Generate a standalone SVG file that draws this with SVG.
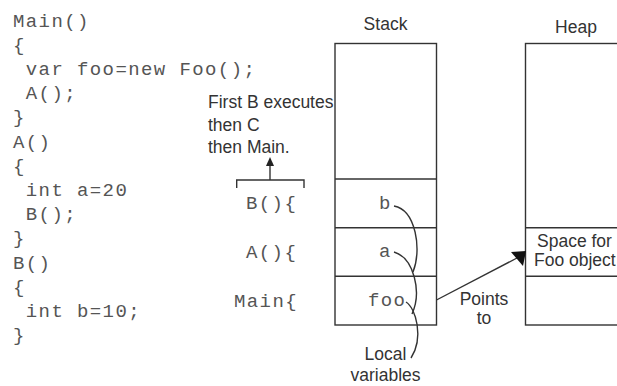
<svg xmlns="http://www.w3.org/2000/svg" width="617" height="386" viewBox="0 0 617 386">
<style>
.code{font-family:"Liberation Mono","Courier New",monospace;font-size:19px;letter-spacing:1.4px;fill:#555}
.lbl{font-family:"Liberation Sans",Arial,sans-serif;font-size:17.5px;fill:#333}
.box{fill:none;stroke:#333;stroke-width:1.4}
.ln{fill:none;stroke:#333;stroke-width:1.4}
</style>
<rect width="617" height="386" fill="#fff"/>
<g id="code">
<text class="code" x="13" y="26.5">Main()</text>
<text class="code" x="13" y="50.7">{</text>
<text class="code" x="25.8" y="74.9">var foo=new Foo();</text>
<text class="code" x="25.8" y="99.1">A();</text>
<text class="code" x="13" y="123.3">}</text>
<text class="code" x="13" y="147.5">A()</text>
<text class="code" x="13" y="171.7">{</text>
<text class="code" x="25.8" y="195.9">int a=20</text>
<text class="code" x="25.8" y="220.1">B();</text>
<text class="code" x="13" y="244.3">}</text>
<text class="code" x="13" y="268.5">B()</text>
<text class="code" x="13" y="292.7">{</text>
<text class="code" x="25.8" y="316.9">int b=10;</text>
<text class="code" x="13" y="341.1">}</text>
</g>
<g id="note">
<text class="lbl" x="208" y="108">First B executes</text>
<text class="lbl" x="208" y="131">then C</text>
<text class="lbl" x="208" y="153">then Main.</text>
</g>
<g id="frames">
<text class="code" x="246" y="209">B(){</text>
<text class="code" x="246" y="258">A(){</text>
<text class="code" x="234" y="307">Main{</text>
</g>
<g id="stack">
<text class="lbl" x="385.5" y="30" text-anchor="middle">Stack</text>
<rect class="box" x="335" y="43.5" width="101.5" height="281.5"/>
<line class="ln" x1="335" y1="179" x2="436.5" y2="179"/>
<line class="ln" x1="335" y1="227.7" x2="436.5" y2="227.7"/>
<line class="ln" x1="335" y1="276.3" x2="436.5" y2="276.3"/>
<text class="code" x="379" y="209">b</text>
<text class="code" x="379" y="257">a</text>
<text class="code" x="368" y="306">foo</text>
</g>
<g id="heap">
<text class="lbl" x="576" y="33" text-anchor="middle">Heap</text>
<rect class="box" x="525.5" y="43.5" width="120" height="281.5"/>
<line class="ln" x1="525.5" y1="227.7" x2="640" y2="227.7"/>
<line class="ln" x1="525.5" y1="276.3" x2="640" y2="276.3"/>
<text class="lbl" x="537" y="247">Space for</text>
<text class="lbl" x="534" y="266">Foo object</text>
</g>
<g id="labels">
<text class="lbl" x="484" y="305" text-anchor="middle">Points</text>
<text class="lbl" x="484" y="324" text-anchor="middle">to</text>
<text class="lbl" x="385.5" y="360" text-anchor="middle">Local</text>
<text class="lbl" x="385.5" y="381" text-anchor="middle">variables</text>
</g>
<g id="connectors">
<path class="ln" d="M236.7,188 V180 H304 V188"/>
<line class="ln" x1="270" y1="180" x2="270" y2="164"/>
<polygon points="270,157 266,166 274,166" fill="#222"/>
<path class="ln" d="M394,206 C416,210 422,250 413,272"/>
<path class="ln" d="M394,252 C414,258 422,292 412,314"/>
<path class="ln" d="M406,302 C416,308 424,338 411,358"/>
<line class="ln" x1="436.5" y1="300" x2="517" y2="258"/>
<polygon points="511,252 526,251 523,266" fill="#111"/>
</g>
</svg>
